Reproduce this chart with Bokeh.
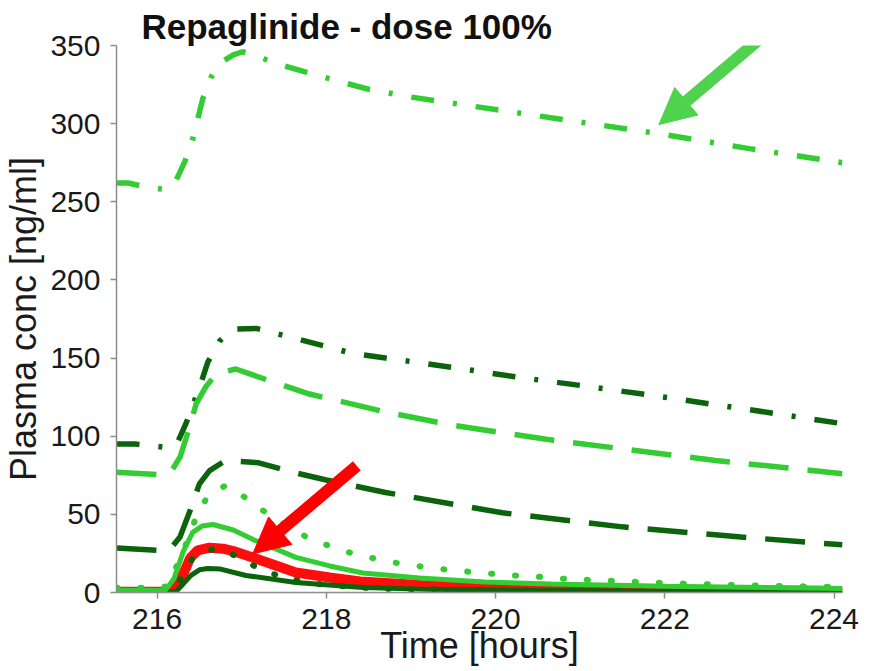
from bokeh.plotting import figure
from bokeh.models import Range1d, FixedTicker, Arrow, NormalHead
from bokeh.embed import file_html
from bokeh.resources import INLINE

# ---- data ----
title_text = "Repaglinide - dose 100%"
x_label = "Time [hours]"
y_label = "Plasma conc [ng/ml]"
x_ticks = [216, 218, 220, 222, 224]
y_ticks = [0, 50, 100, 150, 200, 250, 300, 350]

# light green dash-dot (top)
t_lg_dashdot = [215.52, 215.66, 215.9, 216.08, 216.2, 216.33, 216.42, 216.54, 216.64, 216.78, 216.9, 217.01,
                217.2, 217.37, 217.76, 218.15, 218.5, 219.0, 220.0, 221.0, 222.0, 223.0, 224.1]
c_lg_dashdot = [262, 262, 259, 258, 261, 276, 290, 316, 330, 340, 344, 346,
                343, 339, 333, 327, 322, 317, 309, 301, 293, 284, 275]
# dark green dash-dot
t_dg_dashdot = [215.52, 215.74, 216.0, 216.15, 216.25, 216.34, 216.5, 216.6, 216.74, 216.9, 217.17, 217.6,
                218.31, 218.7, 219.5, 220.23, 221.0, 221.8, 223.0, 224.1]
c_dg_dashdot = [95, 95, 93.5, 92.5, 97, 108, 131, 147.5, 161, 168.5, 169, 163,
                153, 150, 144, 138, 132.5, 126.5, 117, 108]
# light green long dash
t_lg_dash = [215.52, 216.0, 216.15, 216.27, 216.37, 216.46, 216.58, 216.7, 216.93, 217.33, 217.8, 218.7,
             219.5, 220.6, 222.6, 224.1]
c_lg_dash = [77, 75.5, 76, 86.5, 103.5, 120.5, 132, 140, 143, 135.5, 127, 115.5,
             107, 98, 84.5, 76]
# dark green dash
t_dg_dash = [215.52, 216.0, 216.15, 216.27, 216.39, 216.5, 216.62, 216.81, 217.2, 217.6, 218.0, 218.7,
             220.08, 221.5, 222.9, 224.1]
c_dg_dash = [28.5, 27, 27.5, 35.5, 52.5, 69.5, 78, 84.5, 83, 77, 72, 64,
             51, 42, 35.5, 30.5]
# light green dotted
t_lg_dot = [215.52, 216.0, 216.12, 216.3, 216.46, 216.6, 216.81, 217.05, 217.3, 217.78, 218.05, 218.33,
            218.6, 218.89, 219.17, 219.45, 219.73, 220.0, 220.29, 220.57, 220.85, 221.12, 222.0, 223.0, 224.1]
c_lg_dot = [3, 3, 4, 25, 48, 62, 68.5, 60.5, 50.5, 35, 29.5, 24.6,
            21.4, 18.3, 16.3, 14.4, 13.1, 11.8, 10.6, 9.9, 8.6, 8.0, 6, 4.5, 3.5]
# light green solid
t_lg_solid = [215.52, 216.1, 216.2, 216.31, 216.42, 216.53, 216.66, 216.9, 217.13, 217.64, 218.04, 218.43,
              219.1, 219.87, 220.66, 222.0, 224.1]
c_lg_solid = [1.5, 1.5, 9, 26.5, 38.5, 42.5, 43.5, 40, 34, 22.5, 17, 12.5,
              9.3, 6.7, 5.5, 4, 2.5]
# red thick solid
t_red = [215.52, 216.15, 216.24, 216.31, 216.39, 216.48, 216.62, 216.78, 216.9, 217.13, 217.64, 218.04,
         218.4, 219.1, 219.87, 220.66, 222.0, 224.1]
c_red = [0.5, 0.5, 4, 12, 22, 27, 28.7, 28, 26.5, 22.4, 12.8, 9.6,
         7, 4.8, 3.5, 2.5, 1.5, 1]
# dark green dotted
t_dg_dot = [215.52, 216.15, 216.24, 216.33, 216.42, 216.52, 216.65, 216.78, 217.04, 217.28, 217.55, 217.84,
            218.1, 218.38, 218.8, 219.5, 220.5, 222.0, 224.1]
c_dg_dot = [0.5, 0.5, 5, 14, 22, 26, 27.5, 27.5, 20, 13.4, 9, 5.7,
            4.5, 3.2, 2.3, 1.7, 1.2, 0.8, 0.5]
# dark green solid
t_dg_solid = [215.52, 216.22, 216.3, 216.4, 216.5, 216.6, 216.75, 217.05, 217.64, 218.43, 219.2, 220.5, 222.0, 224.1]
c_dg_solid = [0.5, 0.5, 5, 11, 14.5, 15.3, 15, 10.9, 6.4, 3.2, 2, 1.2, 0.8, 0.5]

# annotation arrows: (x_start, y_start, x_end, y_end)
green_arrow = [223.17, 356.4, 221.93, 299.4]
red_arrow = [218.36, 81.0, 217.13, 24.7]

LG = "#33cc33"
DG = "#0b640b"
FONT = "Liberation Sans"

p = figure(width=868, height=668, output_backend="svg", toolbar_location=None,
           x_range=Range1d(215.52, 224.1), y_range=Range1d(0, 350),
           min_border_left=113, min_border_right=26, min_border_top=45, min_border_bottom=76)

p.title.text = title_text
p.title.text_font = FONT
p.title.text_font_size = "35px"
p.title.text_font_style = "bold"
p.title.text_color = "#111111"
p.title.align = "left"
p.title.offset = 25
p.title.standoff = 0

p.outline_line_color = None
p.grid.visible = False

for ax in (p.xaxis[0], p.yaxis[0]):
    ax.axis_line_color = "#8c8c8c"
    ax.axis_line_width = 1.5
    ax.major_tick_line_color = "#8c8c8c"
    ax.major_tick_line_width = 1.5
    ax.major_tick_out = 6
    ax.major_tick_in = 0
    ax.minor_tick_line_color = None
    ax.major_label_text_font = FONT
    ax.major_label_text_font_size = "30px"
    ax.major_label_text_color = "#1a1a1a"
    ax.axis_label_text_font = FONT
    ax.axis_label_text_font_size = "36px"
    ax.axis_label_text_font_style = "normal"
    ax.axis_label_text_color = "#1a1a1a"

p.xaxis.ticker = FixedTicker(ticks=x_ticks)
p.yaxis.ticker = FixedTicker(ticks=y_ticks)
p.xaxis.axis_label = x_label
p.yaxis.axis_label = y_label
p.xaxis.major_label_standoff = 10
p.xaxis.axis_label_standoff = -7
p.yaxis.major_label_standoff = 10
p.yaxis.axis_label_standoff = 3

# curves
p.line(t_lg_dashdot, c_lg_dashdot, line_color=LG, line_width=5.5, line_dash="23 19 4 19")
p.line(t_dg_dashdot, c_dg_dashdot, line_color=DG, line_width=5.5, line_dash="23 19 4 19")
p.line(t_lg_dash, c_lg_dash, line_color=LG, line_width=5.5, line_dash="40 19")
p.line(t_dg_dash, c_dg_dash, line_color=DG, line_width=5.5, line_dash="40 19")
p.line(t_red, c_red, line_color="#ff0000", line_width=10, line_alpha=0.95)
p.line(t_dg_dot, c_dg_dot, line_color=DG, line_width=6, line_dash="1 22", line_cap="round")
p.line(t_lg_dot, c_lg_dot, line_color=LG, line_width=6, line_dash="1 23", line_cap="round")
p.line(t_dg_solid, c_dg_solid, line_color=DG, line_width=5)
p.line(t_lg_solid, c_lg_solid, line_color=LG, line_width=5)

p.add_layout(Arrow(x_start=green_arrow[0], y_start=green_arrow[1], x_end=green_arrow[2], y_end=green_arrow[3],
                   line_color="#4fd34f", line_width=12,
                   end=NormalHead(size=36, fill_color="#4fd34f", line_color="#4fd34f")))
p.add_layout(Arrow(x_start=red_arrow[0], y_start=red_arrow[1], x_end=red_arrow[2], y_end=red_arrow[3],
                   line_color="#ff0000", line_width=12,
                   end=NormalHead(size=36, fill_color="#ff0000", line_color="#ff0000")))

open("out.html", "w").write(file_html(p, INLINE))
